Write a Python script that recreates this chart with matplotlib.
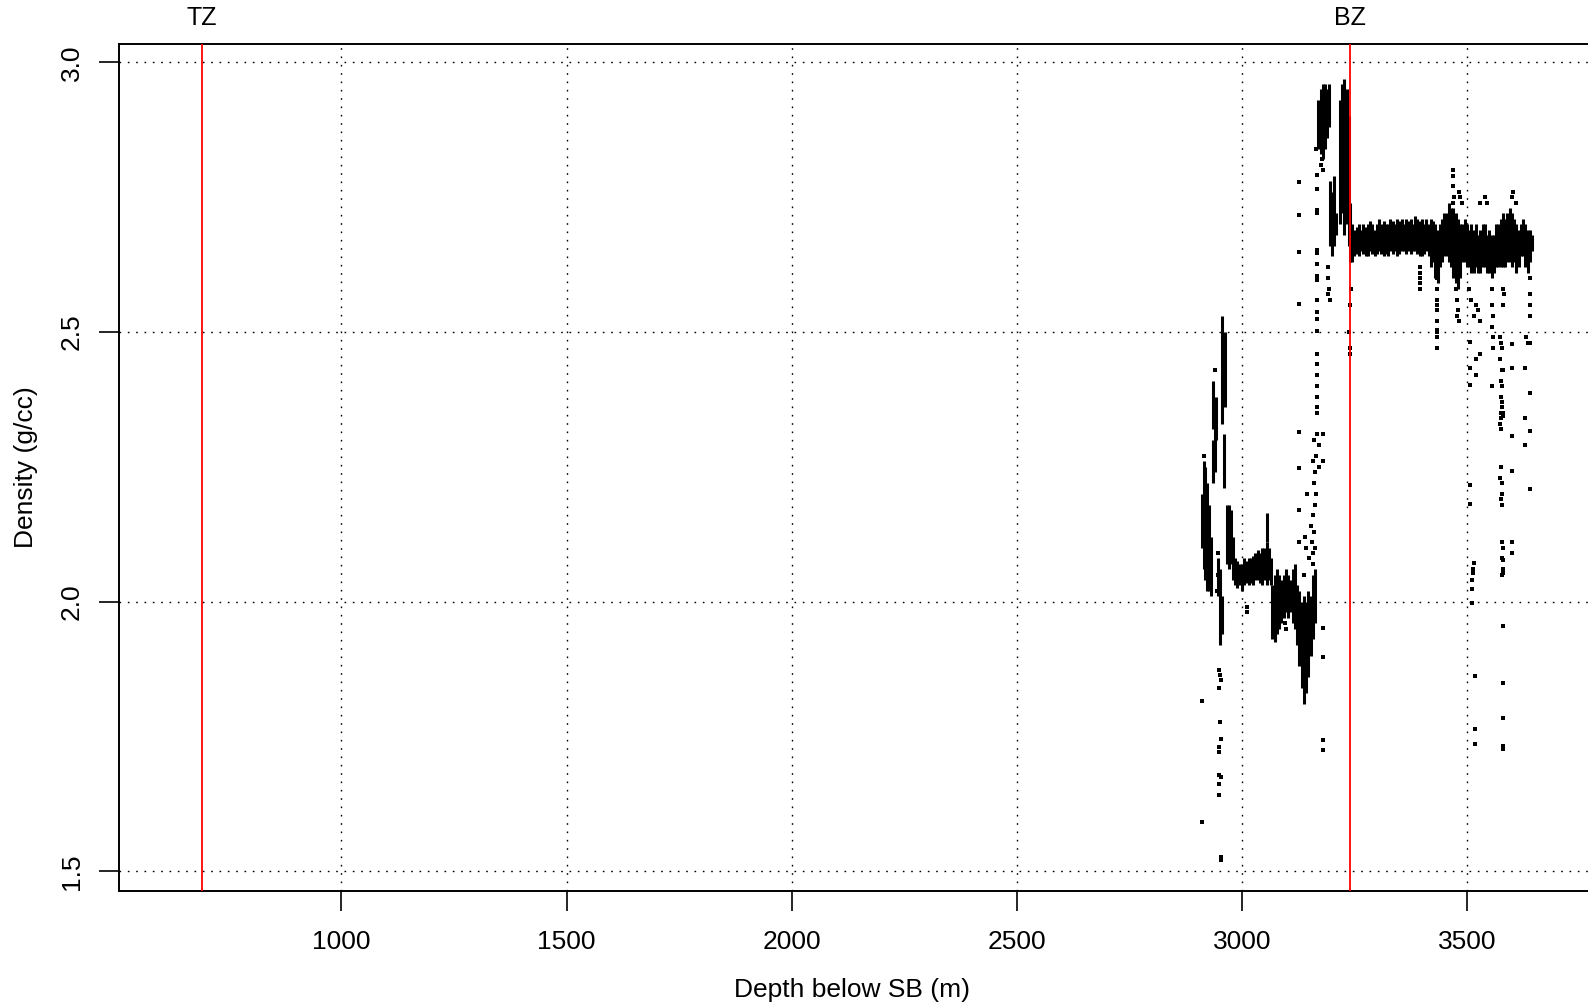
import matplotlib
matplotlib.use("Agg")
import matplotlib.pyplot as plt
import matplotlib.transforms as mtransforms

plt.rcParams['font.family'] = ['Liberation Sans', 'DejaVu Sans']

# ---------------- data ----------------
zone_depths = [690, 3240]
zone_labels = ["TZ", "BZ"]

x_ticks = [1000, 1500, 2000, 2500, 3000, 3500]
y_ticks = [1.5, 2.0, 2.5, 3.0]
y_ticklabels = ["1.5", "2.0", "2.5", "3.0"]

# dense parts of the log: depth, lower and upper density of the cloud
seg_depth = [2912, 2915, 2919, 2923, 2927, 2931, 2936, 2936, 2940, 2943,
             2946, 2951, 2955, 2957, 2962, 2960, 2968, 2972, 2976, 2980,
             2985, 2990, 2995, 3000, 3005, 3010, 3015, 3020, 3025, 3030,
             3035, 3040, 3045, 3050, 3055, 3060, 3065, 3057,
             3068, 3073, 3078, 3083, 3088, 3093, 3098, 3103, 3108, 3113,
             3118, 3123, 3128, 3133, 3138, 3143, 3148, 3153, 3158, 3162,
             3170, 3175, 3180, 3185, 3190, 3193,
             3195, 3200, 3205, 3210,
             3218, 3223, 3228, 3233, 3237, 3240,
             3245, 3250, 3255, 3260, 3265, 3270, 3275, 3280, 3285, 3290,
             3295, 3300, 3305, 3310, 3315, 3320, 3325, 3330, 3335, 3340,
             3345, 3350, 3355, 3360, 3365, 3370, 3375, 3380, 3385, 3390,
             3395, 3400, 3405, 3410, 3415, 3420, 3425, 3430, 3435, 3440,
             3445, 3450, 3455, 3460, 3465, 3470, 3475, 3480, 3485, 3490,
             3495, 3500, 3505, 3510, 3515, 3520, 3525, 3530, 3535, 3540,
             3545, 3550, 3555, 3560, 3565, 3570, 3575, 3580, 3585, 3590,
             3595, 3600, 3605, 3610, 3615, 3620, 3625, 3630, 3635, 3640,
             3645]
seg_lo = [2.10, 2.06, 2.04, 2.02, 2.02, 2.01, 2.22, 2.32, 2.24, 2.30,
          2.01, 1.92, 1.94, 2.33, 2.36, 2.21, 2.07, 2.06, 2.07, 2.04,
          2.03, 2.025, 2.03, 2.02, 2.03, 2.035, 2.03, 2.035, 2.03, 2.04,
          2.04, 2.035, 2.03, 2.04, 2.03, 2.04, 2.03, 2.11,
          1.93, 1.925, 1.94, 1.95, 1.96, 1.97, 1.98, 1.97, 1.98, 1.96,
          1.95, 1.92, 1.88, 1.84, 1.81, 1.83, 1.86, 1.90, 1.93, 1.96,
          2.84, 2.83, 2.82, 2.84, 2.86, 2.88,
          2.66, 2.64, 2.66, 2.68,
          2.70, 2.72, 2.68, 2.70, 2.66, 2.63,
          2.63, 2.64, 2.645, 2.64, 2.65, 2.645, 2.64, 2.64, 2.65, 2.645,
          2.64, 2.645, 2.65, 2.645, 2.64, 2.645, 2.64, 2.65, 2.645, 2.65,
          2.64, 2.645, 2.65, 2.65, 2.645, 2.65, 2.645, 2.65, 2.65, 2.645,
          2.64, 2.64, 2.645, 2.65, 2.64, 2.62, 2.63, 2.60, 2.59, 2.62,
          2.63, 2.64, 2.64, 2.63, 2.62, 2.60, 2.59, 2.58, 2.60, 2.63,
          2.63, 2.62, 2.62, 2.61, 2.61, 2.62, 2.61, 2.61, 2.62, 2.62,
          2.61, 2.61, 2.60, 2.61, 2.62, 2.62, 2.62, 2.62, 2.62, 2.63,
          2.63, 2.62, 2.63, 2.61, 2.62, 2.64, 2.64, 2.62, 2.61, 2.63,
          2.65]
seg_hi = [2.20, 2.26, 2.25, 2.22, 2.18, 2.12, 2.30, 2.41, 2.37, 2.38,
          2.08, 2.06, 2.01, 2.53, 2.50, 2.31, 2.18, 2.18, 2.17, 2.12,
          2.08, 2.075, 2.07, 2.07, 2.08, 2.075, 2.08, 2.08, 2.085, 2.09,
          2.095, 2.09, 2.10, 2.10, 2.11, 2.10, 2.08, 2.165,
          2.03, 2.05, 2.06, 2.05, 2.04, 2.05, 2.06, 2.05, 2.04, 2.06,
          2.07, 2.03, 2.02, 2.00, 2.01, 2.00, 2.02, 2.01, 2.05, 2.06,
          2.93, 2.95, 2.96, 2.96, 2.95, 2.96,
          2.78, 2.76, 2.79, 2.72,
          2.93, 2.96, 2.97, 2.95, 2.90, 2.74,
          2.70, 2.69, 2.695, 2.70, 2.69, 2.70, 2.695, 2.70, 2.705, 2.70,
          2.69, 2.70, 2.71, 2.70, 2.705, 2.70, 2.70, 2.71, 2.705, 2.70,
          2.71, 2.705, 2.71, 2.70, 2.71, 2.705, 2.71, 2.70, 2.715, 2.71,
          2.705, 2.71, 2.70, 2.71, 2.70, 2.71, 2.705, 2.70, 2.69, 2.70,
          2.71, 2.72, 2.72, 2.74, 2.73, 2.73, 2.72, 2.71, 2.70, 2.70,
          2.71, 2.70, 2.69, 2.70, 2.69, 2.70, 2.68, 2.69, 2.70, 2.70,
          2.68, 2.69, 2.68, 2.68, 2.70, 2.70, 2.71, 2.72, 2.71, 2.72,
          2.73, 2.72, 2.71, 2.70, 2.69, 2.70, 2.71, 2.70, 2.69, 2.69,
          2.68]

# isolated samples
pt_depth = [2912, 2912, 2950, 2951, 2953, 2950, 2951, 2954, 2950, 2950,
            2950, 2953, 2950, 2950, 2954, 2954, 2917, 2940, 2944, 2948, 2946,
            3011, 3011, 3096, 3097,
            3181, 3181, 3181, 3181,
            3128, 3128, 3128, 3128, 3128, 3128, 3128, 3128,
            3167, 3167, 3167, 3168, 3167, 3168, 3167, 3167, 3160, 3172,
            3165, 3158, 3162, 3160, 3164, 3162, 3158, 3154, 3160, 3156,
            3162, 3157, 3150, 3158, 3172, 3181, 3181, 3145, 3140, 3138, 3142,
            3167, 3167, 3167, 3168, 3167, 3167, 3167, 3167, 3167, 3167,
            3167, 3167, 3167, 3165, 3175, 3180, 3178,
            3192, 3192, 3193, 3192, 3195,
            3240, 3240, 3238, 3242, 3240,
            3396, 3396, 3396, 3396, 3396,
            3433, 3433, 3433, 3434, 3433, 3433, 3434, 3434, 3434,
            3470, 3470, 3470, 3471, 3470, 3482, 3485, 3490,
            3475, 3477, 3480, 3478, 3482,
            3505, 3510, 3520, 3515, 3525, 3529,
            3555, 3556, 3557, 3556, 3558,
            3580, 3582, 3581,
            3600, 3603, 3608, 3540, 3545, 3530,
            3640, 3640, 3641, 3640,
            3434, 3434, 3434,
            3507, 3507, 3507, 3507, 3507,
            3515, 3514, 3514, 3512, 3512, 3512, 3518, 3518, 3518,
            3520, 3520, 3529,
            3574, 3576, 3578, 3574, 3577, 3580, 3575, 3578, 3576, 3578,
            3577, 3575, 3579, 3576, 3574, 3576, 3580, 3574, 3577, 3578,
            3576, 3578, 3577, 3579, 3578, 3579, 3578, 3576,
            3557, 3558, 3555,
            3579, 3579, 3579, 3579, 3579, 3579, 3579,
            3600, 3600, 3600, 3600, 3600, 3600,
            3632, 3636, 3640, 3629, 3640, 3629, 3640, 3629, 3640]
pt_dens = [1.816, 1.591, 1.873, 1.864, 1.855, 1.839, 1.777, 1.746, 1.731, 1.722,
           1.678, 1.674, 1.662, 1.641, 1.527, 1.520, 2.27, 2.43, 2.02, 2.09, 2.05,
           1.99, 1.98, 1.96, 1.95,
           1.951, 1.898, 1.744, 1.725,
           2.779, 2.717, 2.648, 2.551, 2.315, 2.247, 2.169, 2.111,
           2.46, 2.44, 2.42, 2.40, 2.38, 2.36, 2.35, 2.31, 2.30, 2.29,
           2.27, 2.26, 2.24, 2.22, 2.20, 2.18, 2.16, 2.14, 2.13, 2.11,
           2.10, 2.09, 2.08, 2.07, 2.25, 2.31, 2.26, 2.20, 2.12, 2.05, 2.10,
           2.792, 2.765, 2.726, 2.72, 2.652, 2.646, 2.626, 2.604, 2.596, 2.56,
           2.537, 2.524, 2.502, 2.84, 2.81, 2.80, 2.82,
           2.62, 2.60, 2.58, 2.57, 2.56,
           2.47, 2.46, 2.50, 2.58, 2.55,
           2.62, 2.61, 2.60, 2.59, 2.58,
           2.60, 2.58, 2.56, 2.55, 2.54, 2.52, 2.50, 2.49, 2.47,
           2.80, 2.79, 2.77, 2.75, 2.74, 2.76, 2.75, 2.74,
           2.58, 2.56, 2.54, 2.53, 2.52,
           2.58, 2.56, 2.55, 2.53, 2.54, 2.52,
           2.58, 2.55, 2.53, 2.51, 2.49,
           2.58, 2.57, 2.55,
           2.75, 2.76, 2.74, 2.75, 2.74, 2.74,
           2.60, 2.57, 2.55, 2.53,
           2.504, 2.49, 2.47,
           2.482, 2.434, 2.401, 2.216, 2.181,
           2.071, 2.060, 2.054, 2.040, 2.023, 1.998, 1.862, 1.763, 1.736,
           2.45, 2.42, 2.46,
           2.49, 2.48, 2.47, 2.45, 2.43, 2.43, 2.41, 2.40, 2.38, 2.37,
           2.36, 2.35, 2.345, 2.34, 2.33, 2.32, 2.35, 2.23, 2.22, 2.20,
           2.19, 2.18, 2.11, 2.10, 2.08, 2.06, 2.05, 2.25,
           2.49, 2.47, 2.40,
           2.077, 2.054, 1.954, 1.849, 1.784, 1.732, 1.726,
           2.478, 2.434, 2.308, 2.243, 2.111, 2.090,
           2.49, 2.48, 2.48, 2.433, 2.386, 2.340, 2.316, 2.290, 2.208]

# ---------------- figure ----------------
W, H = 1588, 1006
fig = plt.figure(figsize=(W / 100, H / 100), dpi=100)
ax_left, ax_right, ax_top, ax_bottom = 119, 1602, 44, 890.7
ax = fig.add_axes([ax_left / W, 1 - ax_bottom / H,
                   (ax_right - ax_left) / W, (ax_bottom - ax_top) / H])
ax.set_xlim(506, 3800)
ax.set_ylim(1.464, 3.034)

# grid
grid_style = dict(color="black", lw=1.0, linestyle=(0, (1.2, 4.8)), zorder=1)
for xv in x_ticks:
    ax.axvline(xv, **grid_style)
for yv in y_ticks:
    ax.axhline(yv, **grid_style)

# data
ax.vlines(seg_depth, seg_lo, seg_hi, colors="black", linewidth=2.2,
          zorder=3, capstyle="butt")
ax.plot(pt_depth, pt_dens, linestyle="none", marker="s", markersize=2.2,
        markeredgewidth=0, color="black", zorder=3)

# zone lines
trans = mtransforms.blended_transform_factory(ax.transData, ax.transAxes)
for d, lab in zip(zone_depths, zone_labels):
    ax.axvline(d, color="red", lw=1.3, zorder=4)
    ax.text(d, 1.0307, lab, transform=trans, ha="center", va="center",
            fontsize=18, clip_on=False)

# axes styling
for s in ax.spines.values():
    s.set_linewidth(1.4)
ax.set_xticks(x_ticks)
ax.set_xticklabels([str(v) for v in x_ticks])
ax.set_yticks(y_ticks)
ax.set_yticklabels(y_ticklabels, rotation=90, va="center")
ax.tick_params(axis="both", direction="out", length=14.5, width=1.2,
               labelsize=19, pad=14)
ax.tick_params(axis="y", pad=11)

ax.set_xlabel("Depth below SB (m)", fontsize=19)
ax.xaxis.set_label_coords((852 - ax_left) / (ax_right - ax_left),
                          ((H - 990) - (H - ax_bottom)) / (ax_bottom - ax_top))
ax.set_ylabel("Density (g/cc)", fontsize=19)
ax.yaxis.set_label_coords((26 - ax_left) / (ax_right - ax_left), 0.5)
ax.xaxis.label.set_va("center")
ax.yaxis.label.set_va("center")

fig.savefig("out.png", dpi=100)
